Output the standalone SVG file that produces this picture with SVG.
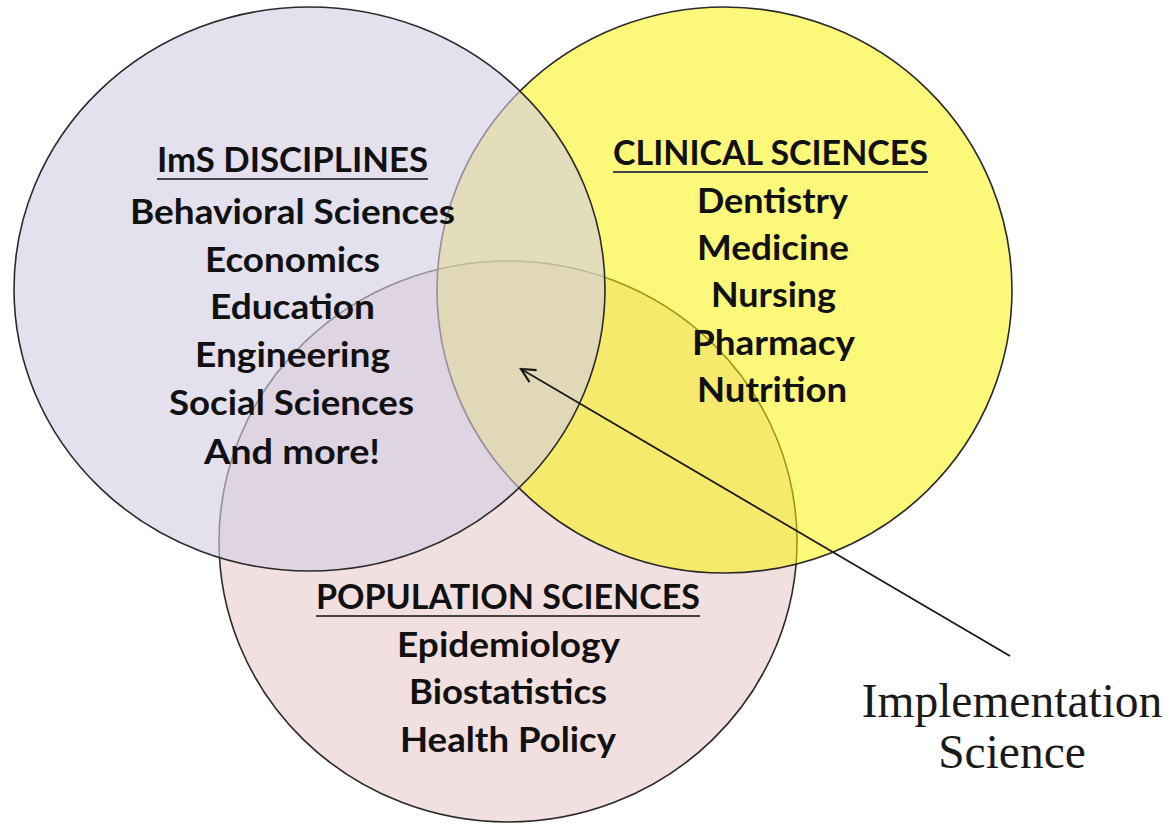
<svg xmlns="http://www.w3.org/2000/svg" width="1170" height="824" viewBox="0 0 1170 824">
  <defs>
    <style>
      .circle { stroke: #2a2a2a; stroke-width: 1.6; }
      .lbl { font-family: Lato, "Open Sans", sans-serif; font-weight: bold; font-size: 35px; fill: #111; text-anchor: middle; }
      .hdr { font-size: 34px; }
      .ul { stroke: #444; stroke-width: 2.2; }
      .impl { font-family: "Liberation Serif", "DejaVu Serif", serif; font-size: 47.5px; fill: #1a1a1a; text-anchor: middle; }
      .conn { stroke: #1a1a1a; stroke-width: 1.8; fill: none; }
    </style>
    <marker id="openArrow" viewBox="0 0 20 20" refX="18" refY="10" markerWidth="20" markerHeight="20" markerUnits="userSpaceOnUse" orient="auto">
      <path d="M4,3 L18,10 L4,17" fill="none" stroke="#1a1a1a" stroke-width="2.2"/>
    </marker>
  </defs>
  <rect width="1170" height="824" fill="#ffffff"/>

  <g id="population-sciences">
    <ellipse class="circle" cx="508" cy="541.5" rx="289" ry="280.5" fill="#f2dfe0"/>
  </g>
  <g id="clinical-sciences">
    <ellipse class="circle" cx="724.5" cy="290" rx="287.5" ry="283" fill="#f7f20d" fill-opacity="0.55"/>
  </g>
  <g id="ims-disciplines">
    <ellipse class="circle" cx="309.5" cy="289" rx="295.5" ry="282" fill="#d3cde4" fill-opacity="0.62"/>
  </g>

  <g id="ims-text">
    <text class="lbl hdr" x="292.5" y="172" textLength="271" lengthAdjust="spacingAndGlyphs">ImS DISCIPLINES</text>
    <line class="ul" x1="157" y1="179" x2="428" y2="179"/>
    <text class="lbl" x="292.5" y="224" textLength="325" lengthAdjust="spacingAndGlyphs">Behavioral Sciences</text>
    <text class="lbl" x="292.5" y="272" textLength="175" lengthAdjust="spacingAndGlyphs">Economics</text>
    <text class="lbl" x="292.5" y="319" textLength="165" lengthAdjust="spacingAndGlyphs">Education</text>
    <text class="lbl" x="292.5" y="367" textLength="195" lengthAdjust="spacingAndGlyphs">Engineering</text>
    <text class="lbl" x="291.5" y="415" textLength="245" lengthAdjust="spacingAndGlyphs">Social Sciences</text>
    <text class="lbl" x="292" y="464" textLength="176" lengthAdjust="spacingAndGlyphs">And more!</text>
  </g>
  <g id="clinical-text">
    <text class="lbl hdr" x="770.5" y="165" textLength="315" lengthAdjust="spacingAndGlyphs">CLINICAL SCIENCES</text>
    <line class="ul" x1="613" y1="172" x2="928" y2="172"/>
    <text class="lbl" x="772.5" y="213" textLength="151" lengthAdjust="spacingAndGlyphs">Dentistry</text>
    <text class="lbl" x="773" y="260" textLength="152" lengthAdjust="spacingAndGlyphs">Medicine</text>
    <text class="lbl" x="773.5" y="307" textLength="125" lengthAdjust="spacingAndGlyphs">Nursing</text>
    <text class="lbl" x="773.5" y="355" textLength="163" lengthAdjust="spacingAndGlyphs">Pharmacy</text>
    <text class="lbl" x="772" y="402" textLength="150" lengthAdjust="spacingAndGlyphs">Nutrition</text>
  </g>
  <g id="population-text">
    <text class="lbl hdr" x="508" y="609" textLength="384" lengthAdjust="spacingAndGlyphs">POPULATION SCIENCES</text>
    <line class="ul" x1="316" y1="616" x2="700" y2="616"/>
    <text class="lbl" x="508.5" y="657" textLength="223" lengthAdjust="spacingAndGlyphs">Epidemiology</text>
    <text class="lbl" x="508" y="704" textLength="198" lengthAdjust="spacingAndGlyphs">Biostatistics</text>
    <text class="lbl" x="508" y="752" textLength="216" lengthAdjust="spacingAndGlyphs">Health Policy</text>
  </g>

  <g id="connectors">
    <line class="conn" x1="1010" y1="656" x2="521" y2="369" marker-end="url(#openArrow)"/>
  </g>

  <g id="implementation-science">
    <text class="impl" x="1012" y="717">Implementation</text>
    <text class="impl" x="1012" y="768">Science</text>
  </g>
</svg>
